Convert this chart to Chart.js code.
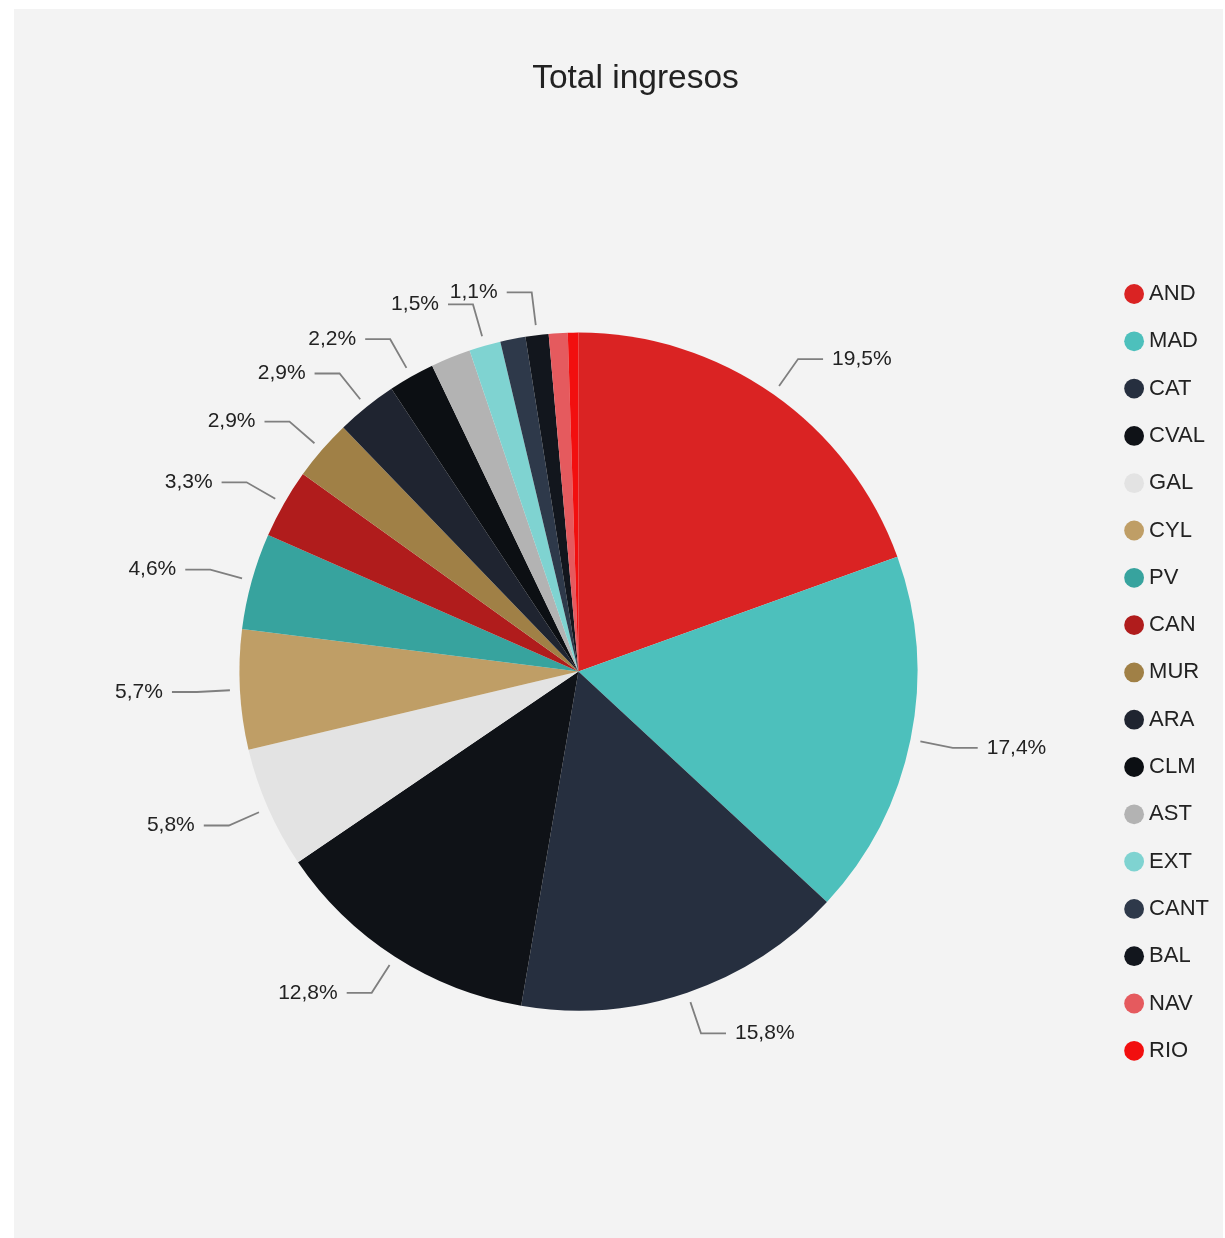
<!DOCTYPE html>
<html>
<head>
<meta charset="utf-8">
<title>Total ingresos</title>
<script src="https://cdn.jsdelivr.net/npm/chart.js@4/dist/chart.umd.min.js"></script>
<style>
  html, body { margin: 0; padding: 0; background: #fff; }
  #wrap { position: absolute; left: 14px; top: 9px; width: 1209px; height: 1229px; background: #f3f3f3; }
</style>
</head>
<body>
<div id="wrap"><canvas id="ingresosChart"></canvas></div>
<script>
// datos (% del total)
const regiones = ['AND', 'MAD', 'CAT', 'CVAL', 'GAL', 'CYL', 'PV', 'CAN', 'MUR', 'ARA', 'CLM', 'AST', 'EXT', 'CANT', 'BAL', 'NAV', 'RIO'];
const ingresos = [19.5, 17.4, 15.8, 12.8, 5.8, 5.7, 4.6, 3.3, 2.9, 2.9, 2.2, 1.9, 1.5, 1.2, 1.1, 0.9, 0.5];
const colores = ['#da2323', '#4dc0bc', '#262f3f', '#0f1217', '#e3e3e3', '#bf9e66', '#37a39e', '#b01c1c', '#a08046',
                 '#1f2430', '#0c0f13', '#b3b3b3', '#7fd3d1', '#2e394a', '#12161d', '#e55a5e', '#f20f0f'];
// etiquetas que no caben
const sinEtiqueta = ['AST', 'CANT', 'NAV', 'RIO'];

Chart.defaults.font.family = '"Liberation Sans", Arial, sans-serif';
Chart.defaults.color = '#222';

// etiquetas con línea guía
const etiquetasPlugin = {
  id: 'etiquetas',
  afterDatasetsDraw(chart) {
    const ctx = chart.ctx;
    const meta = chart.getDatasetMeta(0);
    const total = ingresos.reduce((a, b) => a + b, 0);
    ctx.save();
    ctx.font = '21px "Liberation Sans", Arial, sans-serif';
    ctx.textBaseline = 'middle';
    meta.data.forEach((arc, i) => {
      if (sinEtiqueta.includes(regiones[i])) return;
      const ang = (arc.startAngle + arc.endAngle) / 2;
      const r = arc.outerRadius;
      const cos = Math.cos(ang), sin = Math.sin(ang);
      const x0 = arc.x + (r + 10) * cos, y0 = arc.y + (r + 10) * sin;
      const x1 = arc.x + (r + 43) * cos, y1 = arc.y + (r + 43) * sin;
      const dir = cos >= 0 ? 1 : -1;
      const x2 = x1 + dir * 25;
      ctx.strokeStyle = '#7f7f7f';
      ctx.lineWidth = 1.8;
      ctx.beginPath();
      ctx.moveTo(x0, y0);
      ctx.lineTo(x1, y1);
      ctx.lineTo(x2, y1);
      ctx.stroke();
      const pct = (ingresos[i] / total * 100).toFixed(1).replace('.', ',') + '%';
      ctx.fillStyle = '#222';
      ctx.textAlign = dir > 0 ? 'left' : 'right';
      ctx.fillText(pct, x2 + dir * 9, y1);
    });
    ctx.restore();
  }
};

const ctx = document.getElementById('ingresosChart').getContext('2d');
new Chart(ctx, {
  type: 'pie',
  data: {
    labels: regiones,
    datasets: [{
      data: ingresos,
      backgroundColor: colores,
      borderWidth: 0,
      radius: 339
    }]
  },
  options: {
    responsive: true,
    maintainAspectRatio: false,
    animation: false,
    layout: { padding: { left: 38, right: 4, top: 0, bottom: 3 } },
    plugins: {
      title: {
        display: true,
        text: 'Total ingresos',
        color: '#222',
        font: { size: 33.5, weight: 'normal' },
        padding: { top: 50, bottom: 9 }
      },
      legend: {
        position: 'right',
        title: { display: true, text: ' ', font: { size: 10 }, padding: { top: 88.8, bottom: 0 } },
        labels: {
          usePointStyle: true,
          pointStyle: 'circle',
          boxWidth: 8,
          boxHeight: 14,
          padding: 25.3,
          color: '#222',
          font: { size: 22 }
        }
      },
      tooltip: { enabled: false }
    }
  },
  plugins: [etiquetasPlugin]
});
</script>
</body>
</html>
